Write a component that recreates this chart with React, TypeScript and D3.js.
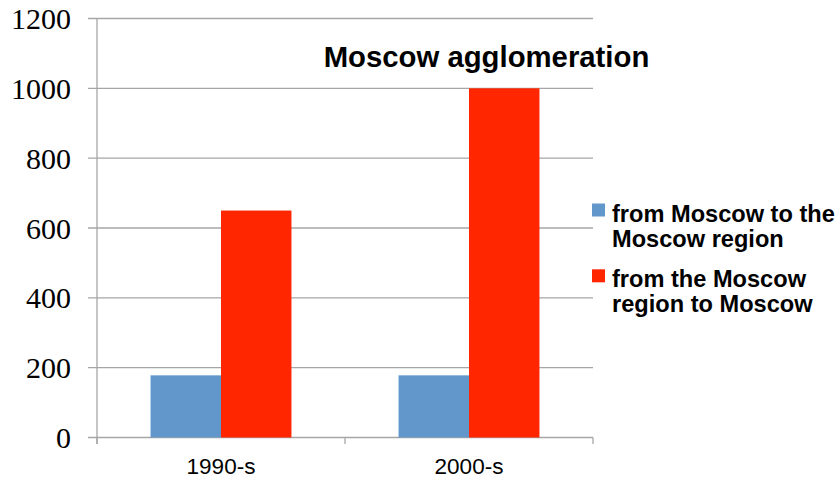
import React from "react";
import * as d3 from "d3";

const categories = ["1990-s", "2000-s"];
const seriesNames = ["from Moscow to the Moscow region", "from the Moscow region to Moscow"];
const legendLines = [["from Moscow to the", "Moscow region"], ["from the Moscow", "region to Moscow"]];
const toRegion = [178, 178];
const toMoscow = [650, 1000];
const yTicks = [0, 200, 400, 600, 800, 1000, 1200];
const colors = ["#6197CB", "#FF2600"];

export default function App() {
  const W = 840, H = 478;
  const left = 97, right = 593, top = 18.5, bottom = 437.5;
  const x = d3.scaleBand<string>().domain(categories).range([left, right]).padding(0);
  const xi = d3.scaleBand<string>().domain(seriesNames).range([0, x.bandwidth()]).paddingInner(0).paddingOuter(0.76);
  const y = d3.scaleLinear().domain([0, 1200]).range([bottom, top]);
  const values = [toRegion, toMoscow];
  const grid = "#A6A6A6";
  return (
    <svg width={W} height={H} style={{ position: "absolute", left: 0, top: 0 }}>
      <rect width={W} height={H} fill="#fff" />
      {yTicks.map((t) => (
        <g key={t}>
          <line x1={88} x2={right} y1={y(t)} y2={y(t)} stroke={grid} strokeWidth={1.3} />
          <text x={71} y={y(t)} dy="0.35em" textAnchor="end" fontFamily="Liberation Serif, Times New Roman, serif" fontSize={30} fill="#000">{t}</text>
        </g>
      ))}
      <line x1={left} x2={left} y1={top} y2={444} stroke={grid} strokeWidth={1.3} />
      {[...categories.map((c) => x(c)!), right].map((px, i) => (
        <line key={i} x1={px} x2={px} y1={bottom} y2={444} stroke={grid} strokeWidth={1.3} />
      ))}
      {categories.map((c, ci) => (
        <g key={c}>
          {seriesNames.map((s, si) => (
            <rect key={s} x={x(c)! + xi(s)!} y={y(values[si][ci])} width={xi.bandwidth()} height={bottom - y(values[si][ci])} fill={colors[si]} />
          ))}
          <text x={x(c)! + x.bandwidth() / 2} y={474} textAnchor="middle" fontFamily="Liberation Sans, Arial, sans-serif" fontSize={22.5} fill="#000">{c}</text>
        </g>
      ))}
      <text x={486.5} y={66.5} textAnchor="middle" fontFamily="Liberation Sans, Arial, sans-serif" fontWeight="bold" fontSize={29.3} fill="#000">Moscow agglomeration</text>
      {legendLines.map((lines, i) => (
        <g key={i}>
          <rect x={592} y={203.5 + i * 65.8} width={13} height={13} fill={colors[i]} />
          {lines.map((l, j) => (
            <text key={j} x={612} y={222 + i * 65 + j * 24.8} fontFamily="Liberation Sans, Arial, sans-serif" fontWeight="bold" fontSize={23.6} fill="#000">{l}</text>
          ))}
        </g>
      ))}
    </svg>
  );
}
